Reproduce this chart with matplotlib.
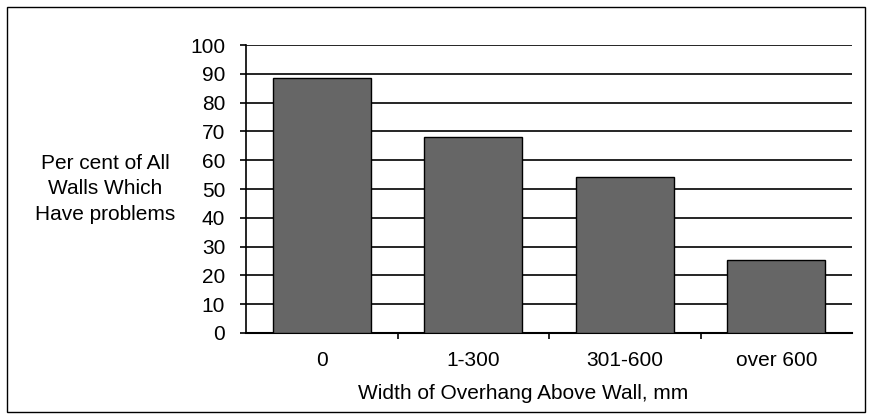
import matplotlib.pyplot as plt
from matplotlib.patches import Rectangle
import numpy as np

categories = ["0", "1-300", "301-600", "over 600"]
values = [88.5, 68, 54.3, 25.2]
y_ticks = [0, 10, 20, 30, 40, 50, 60, 70, 80, 90, 100]

plt.rcParams['font.family'] = ['Liberation Sans', 'DejaVu Sans']
FS = 15

fig = plt.figure(figsize=(8.72, 4.19), dpi=100)
W, H = 872, 419
ax = fig.add_axes([246 / W, 1 - 333 / H, (852 - 246) / W, (333 - 45) / H])

x = np.arange(len(categories))
ax.bar(x, values, width=0.645, color='#666666', edgecolor='black', linewidth=1, zorder=3)

ax.set_xlim(-0.5, len(categories) - 0.5)
ax.set_ylim(0, 100)
ax.set_yticks(y_ticks)
ax.set_yticklabels([str(t) for t in y_ticks], fontsize=FS)
ax.yaxis.grid(True, color='black', linewidth=1.2, zorder=0)

# category labels centred, tick marks between categories
ax.set_xticks(x)
ax.set_xticklabels(categories, fontsize=FS)
ax.tick_params(axis='x', length=0, pad=13)
ax.set_xticks(np.arange(0.5, len(categories) - 0.5), minor=True)
ax.tick_params(axis='x', which='minor', length=4, width=1.2, direction='out')
ax.tick_params(axis='y', length=4, width=1.2, direction='out', pad=11)

for s in ['top', 'right']:
    ax.spines[s].set_visible(False)
ax.spines['left'].set_linewidth(1.2)
ax.spines['bottom'].set_linewidth(1.5)

fig.text(523 / W, 1 - 393 / H, "Width of Overhang Above Wall, mm",
         fontsize=FS, ha='center', va='center')
fig.text(105 / W, 1 - 189 / H, "Per cent of All\nWalls Which\nHave problems",
         fontsize=FS, ha='center', va='center', linespacing=1.45)

fig.patches.append(Rectangle((7 / W, 7 / H), (865 - 7) / W, (412 - 7) / H,
                             transform=fig.transFigure, fill=False,
                             edgecolor='black', linewidth=1))

plt.savefig("out.png", dpi=100)
